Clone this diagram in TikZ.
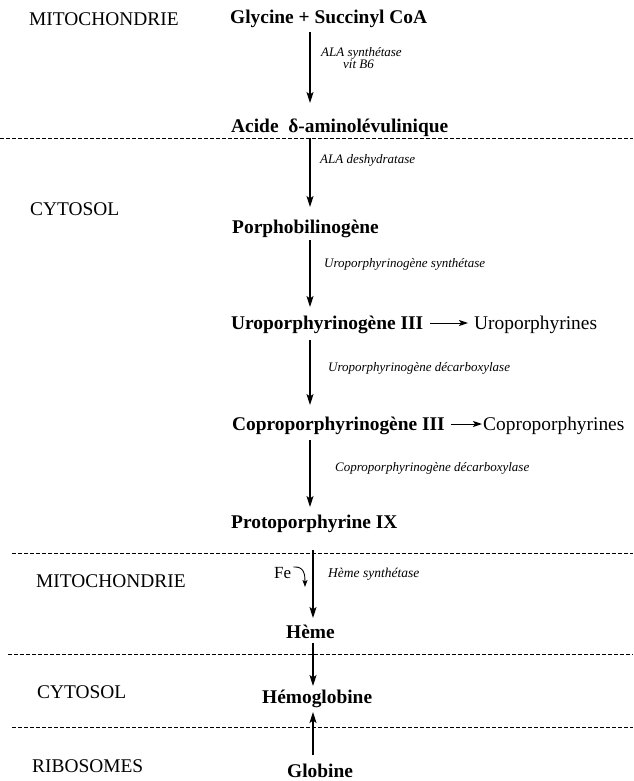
\documentclass[tikz,border=0pt]{standalone}
\usepackage{fontspec}
\setmainfont{Liberation Serif}
\usetikzlibrary{arrows.meta,calc}
\begin{document}
\begin{tikzpicture}[x=1pt,y=-1pt,
  main/.style={font=\fontsize{19.4}{22}\selectfont\bfseries, inner sep=0pt, anchor=base west},
  prod/.style={font=\fontsize{19.4}{22}\selectfont, inner sep=0pt, anchor=base west},
  comp/.style={font=\fontsize{19.4}{22}\selectfont, inner sep=0pt, anchor=base west},
  fest/.style={font=\fontsize{17}{19}\selectfont, inner sep=0pt, anchor=base west},
  enz/.style={font=\fontsize{13}{15}\selectfont\itshape, inner sep=0pt, anchor=base west},
  enzs/.style={font=\fontsize{13.5}{15}\selectfont\itshape, inner sep=0pt, anchor=base west},
  arr/.style={line width=1.1pt, -{Stealth[length=11pt,width=7pt,inset=2.5pt]}},
  sarr/.style={line width=1pt, -{Stealth[length=9pt,width=6pt,inset=2pt]}},
  sep/.style={line width=0.6pt, dash pattern=on 3.5pt off 2.5pt}]
\useasboundingbox (0,0) rectangle (633,781);
% compartments
\node[comp] (c1) at (29,26) {MITOCHONDRIE};
\node[comp] (c2) at (30,215) {CYTOSOL};
\node[comp] (c3) at (36,587) {MITOCHONDRIE};
\node[comp] (c4) at (37,698) {CYTOSOL};
\node[comp] (c5) at (32,772) {RIBOSOMES};
% separators
\coordinate (s1a) at (0,138); \coordinate (s1b) at (633,138);
\coordinate (s2a) at (12,553); \coordinate (s2b) at (633,553);
\coordinate (s3a) at (8,654); \coordinate (s3b) at (633,654);
\coordinate (s4a) at (12,727); \coordinate (s4b) at (633,727);
\draw[sep] (s1a) -- (s1b);
\draw[sep] (s2a) -- (s2b);
\draw[sep] (s3a) -- (s3b);
\draw[sep] (s4a) -- (s4b);
% metabolites
\node[main] (gly) at (230,24) {Glycine + Succinyl CoA};
\node[main] (ala) at (231,132) {Acide \ δ-aminolévulinique};
\node[main] (pbg) at (232,233) {Porphobilinogène};
\node[main] (uro) at (231,329) {Uroporphyrinogène III};
\node[prod] (urop) at (474,329) {Uroporphyrines};
\node[main] (cop) at (232,430) {Coproporphyrinogène III};
\node[prod] (copp) at (483,430) {Coproporphyrines};
\node[main] (pro) at (231,528) {Protoporphyrine IX};
\node[main] (hem) at (286,638) {Hème};
\node[main] (hb) at (262,703) {Hémoglobine};
\node[main] (glo) at (287,777) {Globine};
\node[fest] (fe) at (274,578) {Fe};
% enzymes
\node[enz] (e1) at (321,57) {ALA synthétase};
\node[enz] (e1b) at (343,69) {vit B6};
\node[enz] (e2) at (320,163) {ALA deshydratase};
\node[enz] (e3) at (324,267) {Uroporphyrinogène synthétase};
\node[enz] (e4) at (328,371) {Uroporphyrinogène décarboxylase};
\node[enz] (e5) at (335,471) {Coproporphyrinogène décarboxylase};
\node[enzs] (e6) at (328,577) {Hème synthétase};
% connectors
\coordinate (ax) at (310,0);
\coordinate (bx) at (313,0);
\draw[arr] ($(gly.base -| ax)+(0,8)$) -- ($(ala.base -| ax)+(0,-29)$);
\draw[arr] (s1a -| ax) -- ($(pbg.base -| ax)+(0,-26)$);
\draw[arr] ($(pbg.base -| ax)+(0,7)$) -- ($(uro.base -| ax)+(0,-22)$);
\draw[arr] ($(uro.base -| ax)+(0,11)$) -- ($(cop.base -| ax)+(0,-25)$);
\draw[arr] ($(cop.base -| ax)+(0,10)$) -- ($(pro.base -| ax)+(0,-21)$);
\draw[arr] ($(s2a -| bx)+(0,-3)$) -- ($(hem.base -| bx)+(0,-20)$);
\draw[arr] ($(hem.base -| bx)+(0,5)$) -- ($(hb.base -| bx)+(0,-17)$);
\draw[arr] ($(glo.base -| bx)+(0,-22)$) -- ($(hb.base -| bx)+(0,9)$);
\draw[sarr] ($(uro.base east)+(7,-6)$) -- ($(urop.base west)+(-6,-6)$);
\draw[sarr] ($(cop.base east)+(6,-6)$) -- ($(copp.base west)+(-1,-6)$);
\coordinate (fes) at ($(fe.base east)+(2,-11)$);
\coordinate (fet) at (305,587);
\draw[line width=0.9pt, -{Stealth[length=7pt,width=5pt,inset=1.5pt]}] (fes) .. controls ($(fes)+(11,-1)$) and ($(fet)+(0,-12)$) .. (fet);
\end{tikzpicture}
\end{document}
